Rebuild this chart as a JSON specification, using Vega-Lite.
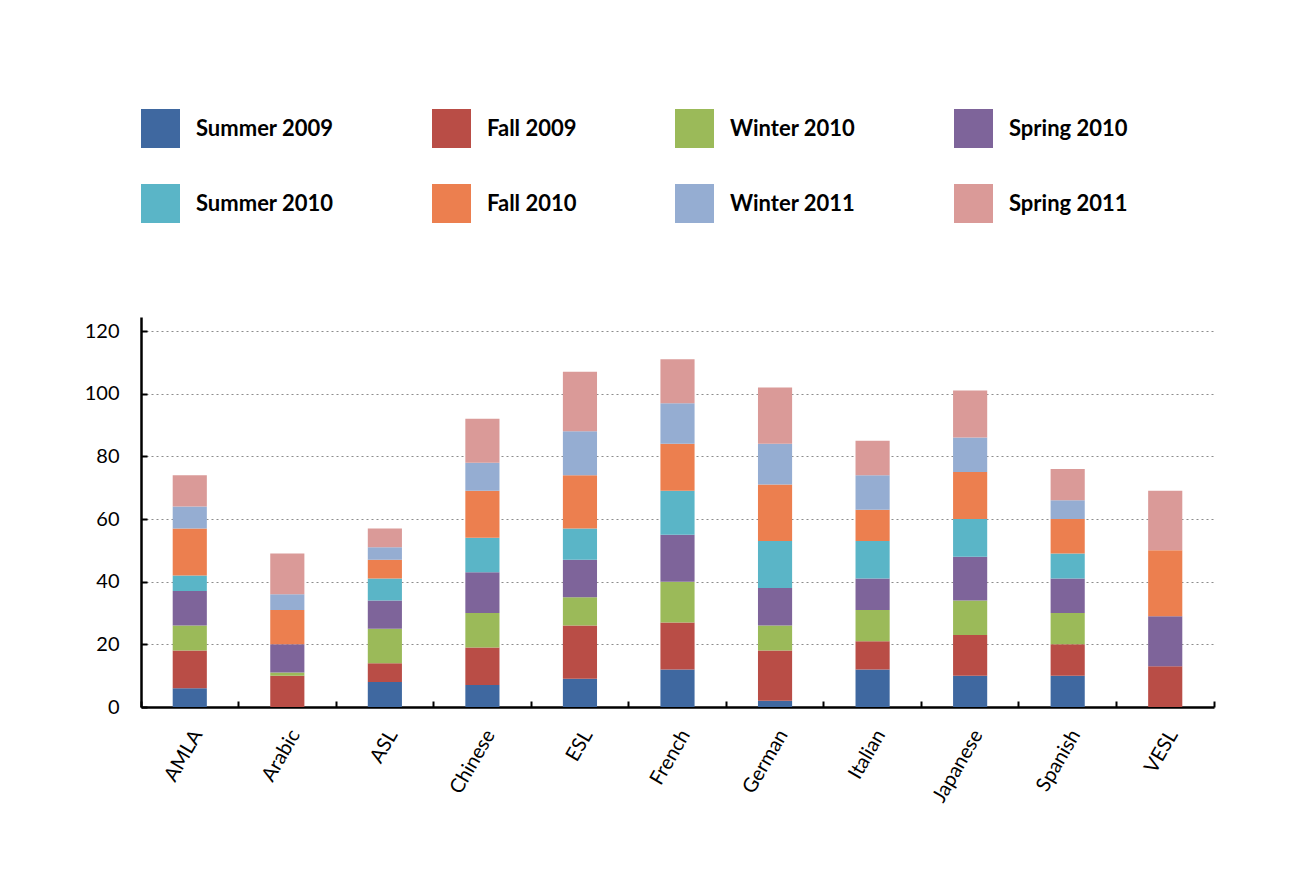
{
  "$schema": "https://vega.github.io/schema/vega-lite/v6.json",
  "width": 1073,
  "height": 390,
  "padding": {"left": 84, "top": 109, "right": 10, "bottom": 10},
  "background": "white",
  "data": {
    "values": [
      {"lang": "AMLA", "term": "Summer 2009", "k": 1, "n": 6},
      {"lang": "AMLA", "term": "Fall 2009", "k": 2, "n": 12},
      {"lang": "AMLA", "term": "Winter 2010", "k": 3, "n": 8},
      {"lang": "AMLA", "term": "Spring 2010", "k": 4, "n": 11},
      {"lang": "AMLA", "term": "Summer 2010", "k": 5, "n": 5},
      {"lang": "AMLA", "term": "Fall 2010", "k": 6, "n": 15},
      {"lang": "AMLA", "term": "Winter 2011", "k": 7, "n": 7},
      {"lang": "AMLA", "term": "Spring 2011", "k": 8, "n": 10},

      {"lang": "Arabic", "term": "Fall 2009", "k": 2, "n": 10},
      {"lang": "Arabic", "term": "Winter 2010", "k": 3, "n": 1},
      {"lang": "Arabic", "term": "Spring 2010", "k": 4, "n": 9},
      {"lang": "Arabic", "term": "Fall 2010", "k": 6, "n": 11},
      {"lang": "Arabic", "term": "Winter 2011", "k": 7, "n": 5},
      {"lang": "Arabic", "term": "Spring 2011", "k": 8, "n": 13},

      {"lang": "ASL", "term": "Summer 2009", "k": 1, "n": 8},
      {"lang": "ASL", "term": "Fall 2009", "k": 2, "n": 6},
      {"lang": "ASL", "term": "Winter 2010", "k": 3, "n": 11},
      {"lang": "ASL", "term": "Spring 2010", "k": 4, "n": 9},
      {"lang": "ASL", "term": "Summer 2010", "k": 5, "n": 7},
      {"lang": "ASL", "term": "Fall 2010", "k": 6, "n": 6},
      {"lang": "ASL", "term": "Winter 2011", "k": 7, "n": 4},
      {"lang": "ASL", "term": "Spring 2011", "k": 8, "n": 6},

      {"lang": "Chinese", "term": "Summer 2009", "k": 1, "n": 7},
      {"lang": "Chinese", "term": "Fall 2009", "k": 2, "n": 12},
      {"lang": "Chinese", "term": "Winter 2010", "k": 3, "n": 11},
      {"lang": "Chinese", "term": "Spring 2010", "k": 4, "n": 13},
      {"lang": "Chinese", "term": "Summer 2010", "k": 5, "n": 11},
      {"lang": "Chinese", "term": "Fall 2010", "k": 6, "n": 15},
      {"lang": "Chinese", "term": "Winter 2011", "k": 7, "n": 9},
      {"lang": "Chinese", "term": "Spring 2011", "k": 8, "n": 14},

      {"lang": "ESL", "term": "Summer 2009", "k": 1, "n": 9},
      {"lang": "ESL", "term": "Fall 2009", "k": 2, "n": 17},
      {"lang": "ESL", "term": "Winter 2010", "k": 3, "n": 9},
      {"lang": "ESL", "term": "Spring 2010", "k": 4, "n": 12},
      {"lang": "ESL", "term": "Summer 2010", "k": 5, "n": 10},
      {"lang": "ESL", "term": "Fall 2010", "k": 6, "n": 17},
      {"lang": "ESL", "term": "Winter 2011", "k": 7, "n": 14},
      {"lang": "ESL", "term": "Spring 2011", "k": 8, "n": 19},

      {"lang": "French", "term": "Summer 2009", "k": 1, "n": 12},
      {"lang": "French", "term": "Fall 2009", "k": 2, "n": 15},
      {"lang": "French", "term": "Winter 2010", "k": 3, "n": 13},
      {"lang": "French", "term": "Spring 2010", "k": 4, "n": 15},
      {"lang": "French", "term": "Summer 2010", "k": 5, "n": 14},
      {"lang": "French", "term": "Fall 2010", "k": 6, "n": 15},
      {"lang": "French", "term": "Winter 2011", "k": 7, "n": 13},
      {"lang": "French", "term": "Spring 2011", "k": 8, "n": 14},

      {"lang": "German", "term": "Summer 2009", "k": 1, "n": 2},
      {"lang": "German", "term": "Fall 2009", "k": 2, "n": 16},
      {"lang": "German", "term": "Winter 2010", "k": 3, "n": 8},
      {"lang": "German", "term": "Spring 2010", "k": 4, "n": 12},
      {"lang": "German", "term": "Summer 2010", "k": 5, "n": 15},
      {"lang": "German", "term": "Fall 2010", "k": 6, "n": 18},
      {"lang": "German", "term": "Winter 2011", "k": 7, "n": 13},
      {"lang": "German", "term": "Spring 2011", "k": 8, "n": 18},

      {"lang": "Italian", "term": "Summer 2009", "k": 1, "n": 12},
      {"lang": "Italian", "term": "Fall 2009", "k": 2, "n": 9},
      {"lang": "Italian", "term": "Winter 2010", "k": 3, "n": 10},
      {"lang": "Italian", "term": "Spring 2010", "k": 4, "n": 10},
      {"lang": "Italian", "term": "Summer 2010", "k": 5, "n": 12},
      {"lang": "Italian", "term": "Fall 2010", "k": 6, "n": 10},
      {"lang": "Italian", "term": "Winter 2011", "k": 7, "n": 11},
      {"lang": "Italian", "term": "Spring 2011", "k": 8, "n": 11},

      {"lang": "Japanese", "term": "Summer 2009", "k": 1, "n": 10},
      {"lang": "Japanese", "term": "Fall 2009", "k": 2, "n": 13},
      {"lang": "Japanese", "term": "Winter 2010", "k": 3, "n": 11},
      {"lang": "Japanese", "term": "Spring 2010", "k": 4, "n": 14},
      {"lang": "Japanese", "term": "Summer 2010", "k": 5, "n": 12},
      {"lang": "Japanese", "term": "Fall 2010", "k": 6, "n": 15},
      {"lang": "Japanese", "term": "Winter 2011", "k": 7, "n": 11},
      {"lang": "Japanese", "term": "Spring 2011", "k": 8, "n": 15},

      {"lang": "Spanish", "term": "Summer 2009", "k": 1, "n": 10},
      {"lang": "Spanish", "term": "Fall 2009", "k": 2, "n": 10},
      {"lang": "Spanish", "term": "Winter 2010", "k": 3, "n": 10},
      {"lang": "Spanish", "term": "Spring 2010", "k": 4, "n": 11},
      {"lang": "Spanish", "term": "Summer 2010", "k": 5, "n": 8},
      {"lang": "Spanish", "term": "Fall 2010", "k": 6, "n": 11},
      {"lang": "Spanish", "term": "Winter 2011", "k": 7, "n": 6},
      {"lang": "Spanish", "term": "Spring 2011", "k": 8, "n": 10},

      {"lang": "VESL", "term": "Fall 2009", "k": 2, "n": 13},
      {"lang": "VESL", "term": "Spring 2010", "k": 4, "n": 16},
      {"lang": "VESL", "term": "Fall 2010", "k": 6, "n": 21},
      {"lang": "VESL", "term": "Spring 2011", "k": 8, "n": 19}
    ]
  },
  "mark": {"type": "bar", "width": {"band": 0.35}, "strokeWidth": 0},
  "encoding": {
    "x": {
      "field": "lang",
      "type": "nominal",
      "sort": null,
      "scale": {"paddingInner": 0, "paddingOuter": 0},
      "axis": {
        "title": null,
        "bandPosition": 1,
        "tickExtra": true,
        "labelAngle": -60,
        "labelAlign": "right",
        "labelBaseline": "middle",
        "labelOffset": 8,
        "labelPadding": 30,
        "tickSize": -6
      }
    },
    "y": {
      "field": "n",
      "type": "quantitative",
      "aggregate": "sum",
      "stack": "zero",
      "scale": {"domain": [0, 124.5], "nice": false},
      "axis": {
        "title": null,
        "values": [0, 20, 40, 60, 80, 100, 120],
        "grid": true,
        "tickSize": -6,
        "labelPadding": 28
      }
    },
    "color": {
      "field": "term",
      "type": "nominal",
      "scale": {
        "domain": ["Summer 2009", "Fall 2009", "Winter 2010", "Spring 2010", "Summer 2010", "Fall 2010", "Winter 2011", "Spring 2011"],
        "range": ["#3F68A0", "#B94D46", "#9BBA59", "#7E649A", "#5AB5C7", "#EC7F4F", "#95ADD2", "#DA9A98"]
      },
      "legend": {
        "title": null,
        "orient": "top",
        "direction": "horizontal",
        "columns": 4,
        "offset": 94
      }
    },
    "order": {"field": "k", "type": "quantitative"}
  },
  "config": {
    "view": {"stroke": null},
    "font": "Lato",
    "axis": {
      "labelFont": "Lato",
      "labelFontSize": 20,
      "labelColor": "#000000",
      "domainColor": "#000000",
      "domainWidth": 2.5,
      "tickColor": "#000000",
      "tickWidth": 2,
      "gridColor": "#8c8c8c",
      "gridDash": [2, 3],
      "gridWidth": 1
    },
    "axisX": {"grid": false},
    "legend": {
      "symbolType": "square",
      "symbolSize": 1521,
      "symbolStrokeWidth": 0,
      "symbolOpacity": 1,
      "labelFont": "Lato",
      "labelFontSize": 22,
      "labelFontWeight": "bold",
      "labelColor": "#000000",
      "labelOffset": 16,
      "columnPadding": 98,
      "rowPadding": 36,
      "padding": 0
    }
  }
}
